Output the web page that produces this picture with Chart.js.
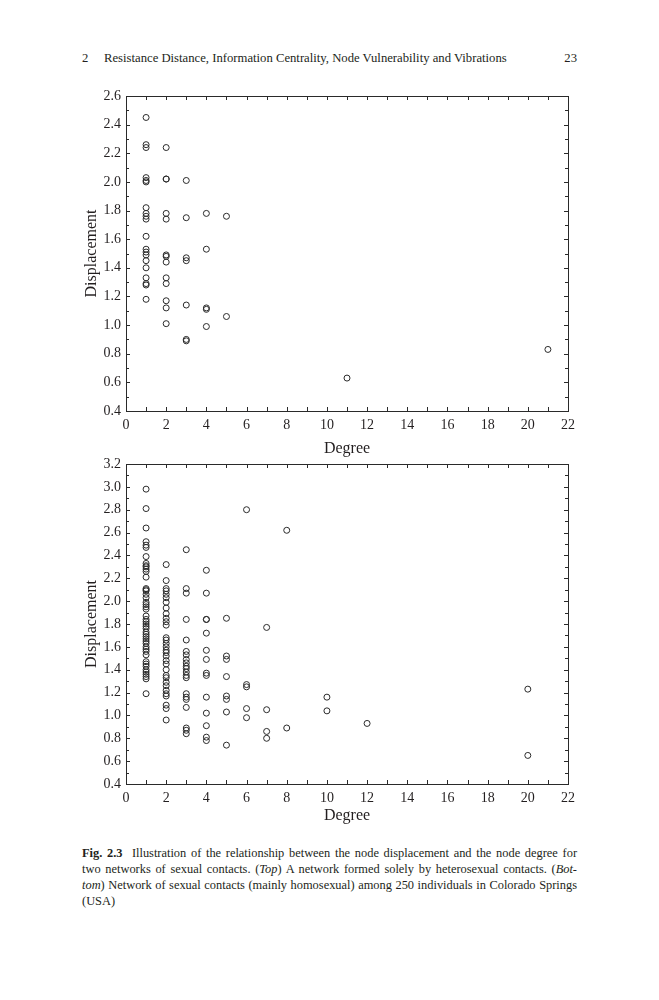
<!DOCTYPE html>
<html lang="en">
<head>
<meta charset="UTF-8">
<title>Fig. 2.3 Displacement vs Degree</title>
<script src="https://cdn.jsdelivr.net/npm/chart.js"></script>
<style>
  body { margin: 0; background: #fff; width: 659px; height: 1000px; position: relative;
         font-family: "Liberation Serif", "Times New Roman", serif; color: #231f20; }
  .hdr { position: absolute; top: 50px; font-size: 12.7px; line-height: 16px; }
  canvas { position: absolute; left: 0; }
  #caption { position: absolute; left: 82px; top: 845px; width: 495px; font-size: 12.4px; line-height: 16px; }
  #caption div { text-align: justify; text-align-last: justify; white-space: nowrap; }
  #caption div.last { text-align-last: left; }
</style>
</head>
<body>
<div class="hdr" style="left:82px">2</div>
<div class="hdr" style="left:104px">Resistance Distance, Information Centrality, Node Vulnerability and Vibrations</div>
<div class="hdr" style="right:82px">23</div>

<canvas id="topChart" width="659" height="380" style="top:80px"></canvas>
<canvas id="bottomChart" width="659" height="380" style="top:450px"></canvas>

<div id="caption">
  <div><b>Fig. 2.3</b>&nbsp; Illustration of the relationship between the node displacement and the node degree for</div>
  <div>two networks of sexual contacts. (<i>Top</i>) A network formed solely by heterosexual contacts. (<i>Bot-</i></div>
  <div><i>tom</i>) Network of sexual contacts (mainly homosexual) among 250 individuals in Colorado Springs</div>
  <div class="last">(USA)</div>
</div>

<script>
// tick labels
const xTicks = [0, 2, 4, 6, 8, 10, 12, 14, 16, 18, 20, 22];
const topYTicks = [0.4, 0.6, 0.8, 1.0, 1.2, 1.4, 1.6, 1.8, 2.0, 2.2, 2.4, 2.6];
const bottomYTicks = [0.4, 0.6, 0.8, 1.0, 1.2, 1.4, 1.6, 1.8, 2.0, 2.2, 2.4, 2.6, 2.8, 3.0, 3.2];

// top network: displacement values per degree
const topDegrees = [1, 2, 3, 4, 5, 11, 21];
const topDeg1 = [2.45, 2.26, 2.24, 2.03, 2.01, 2.00, 1.82, 1.78, 1.76, 1.74, 1.62, 1.53, 1.51, 1.49, 1.45, 1.40, 1.33, 1.29, 1.28, 1.18];
const topDeg2 = [2.24, 2.02, 2.02, 1.78, 1.74, 1.49, 1.48, 1.44, 1.33, 1.29, 1.17, 1.12, 1.01];
const topDeg3 = [2.01, 1.75, 1.47, 1.45, 1.14, 0.90, 0.89];
const topDeg4 = [1.78, 1.53, 1.12, 1.11, 0.99];
const topDeg5 = [1.76, 1.06];
const topDeg11 = [0.63];
const topDeg21 = [0.83];
const topValues = [topDeg1, topDeg2, topDeg3, topDeg4, topDeg5, topDeg11, topDeg21];

// bottom network (Colorado Springs)
const botDegrees = [1, 2, 3, 4, 5, 6, 7, 8, 10, 12, 20];
const botDeg1 = [2.98, 2.81, 2.64, 2.52, 2.49, 2.47, 2.39, 2.33, 2.31, 2.30, 2.28, 2.26, 2.21, 2.11, 2.10, 2.09, 2.06, 2.03,
                 1.99, 1.97, 1.95, 1.93, 1.87, 1.84, 1.82, 1.80, 1.78, 1.76, 1.73, 1.71, 1.69, 1.67, 1.65, 1.63, 1.60, 1.58,
                 1.56, 1.53, 1.47, 1.45, 1.43, 1.40, 1.38, 1.36, 1.34, 1.32, 1.19];
const botDeg2 = [2.32, 2.18, 2.11, 2.09, 2.06, 2.03, 1.99, 1.94, 1.89, 1.85, 1.82, 1.79, 1.68, 1.66, 1.63, 1.60, 1.57, 1.55,
                 1.52, 1.48, 1.45, 1.40, 1.35, 1.33, 1.29, 1.26, 1.22, 1.19, 1.17, 1.09, 1.06, 0.96];
const botDeg3 = [2.45, 2.11, 2.07, 1.84, 1.66, 1.56, 1.53, 1.49, 1.46, 1.43, 1.41, 1.38, 1.35, 1.33, 1.19, 1.16, 1.14, 1.07, 0.89, 0.87, 0.84];
const botDeg4 = [2.27, 2.07, 1.84, 1.84, 1.72, 1.57, 1.49, 1.37, 1.35, 1.16, 1.02, 0.91, 0.81, 0.78];
const botDeg5 = [1.85, 1.52, 1.49, 1.34, 1.17, 1.14, 1.03, 0.74];
const botDeg6 = [2.80, 1.27, 1.25, 1.06, 0.98];
const botDeg7 = [1.77, 1.05, 0.86, 0.80];
const botDeg8 = [2.62, 0.89];
const botDeg10 = [1.16, 1.04];
const botDeg12 = [0.93];
const botDeg20 = [1.23, 0.65];
const botValues = [botDeg1, botDeg2, botDeg3, botDeg4, botDeg5, botDeg6, botDeg7, botDeg8, botDeg10, botDeg12, botDeg20];

function toPoints(degrees, values) {
  const pts = [];
  degrees.forEach((d, i) => values[i].forEach(v => pts.push({ x: d, y: v })));
  return pts;
}

// frame with inward ticks on all four sides
const frameTicks = {
  id: 'frameTicks',
  afterDraw(chart) {
    const { ctx, chartArea: a, scales: { x, y } } = chart;
    ctx.save();
    ctx.strokeStyle = '#2a2a2a';
    ctx.lineWidth = 1;
    ctx.strokeRect(Math.round(a.left) + 0.5, Math.round(a.top) + 0.5,
                   Math.round(a.right - a.left), Math.round(a.bottom - a.top));
    ctx.beginPath();
    for (let v = x.min; v <= x.max; v++) {
      const px = Math.round(x.getPixelForValue(v)) + 0.5;
      ctx.moveTo(px, a.bottom); ctx.lineTo(px, a.bottom - 4);
      ctx.moveTo(px, a.top); ctx.lineTo(px, a.top + 4);
    }
    const n = Math.round((y.max - y.min) * 10);
    for (let i = 0; i <= n; i++) {
      const py = Math.round(y.getPixelForValue(y.min + i / 10)) + 0.5;
      const len = i % 2 === 0 ? 4 : 3;
      ctx.moveTo(a.left, py); ctx.lineTo(a.left + len, py);
      ctx.moveTo(a.right, py); ctx.lineTo(a.right - len, py);
    }
    ctx.stroke();
    ctx.restore();
  }
};

const tickFont = { family: 'Liberation Serif', size: 14 };
const titleFont = { family: 'Liberation Serif', size: 16, lineHeight: 1.2 };

function makeChart(id, points, yTicks, opts) {
  return new Chart(document.getElementById(id), {
    type: 'scatter',
    data: {
      datasets: [{
        data: points,
        pointStyle: 'circle',
        pointRadius: 3,
        pointBorderWidth: 1,
        borderColor: '#2a2a2a',
        backgroundColor: 'rgba(0,0,0,0)'
      }]
    },
    options: {
      responsive: false,
      animation: false,
      layout: { padding: { top: opts.top, right: 91, bottom: 0, left: 0 } },
      plugins: { legend: { display: false }, tooltip: { enabled: false } },
      scales: {
        x: {
          type: 'linear', min: 0, max: 22,
          afterBuildTicks: s => { s.ticks = xTicks.map(v => ({ value: v })); },
          afterFit: s => { s.height = opts.xHeight; },
          grid: { display: false, drawTicks: false },
          border: { display: false },
          ticks: { font: tickFont, color: '#231f20', padding: 6, maxRotation: 0 },
          title: { display: true, text: 'Degree', font: titleFont, color: '#231f20',
                   padding: { top: 0, bottom: opts.xTitlePad } }
        },
        y: {
          type: 'linear', min: yTicks[0], max: yTicks[yTicks.length - 1],
          afterBuildTicks: s => { s.ticks = yTicks.map(v => ({ value: v })); },
          afterFit: s => { s.width = 126; },
          grid: { display: false, drawTicks: false },
          border: { display: false },
          ticks: { font: tickFont, color: '#231f20', padding: 5, callback: v => v.toFixed(1) },
          title: { display: true, text: 'Displacement', font: titleFont, color: '#231f20',
                   padding: { top: 82, bottom: 0 } }
        }
      }
    },
    plugins: [frameTicks]
  });
}

makeChart('topChart', toPoints(topDegrees, topValues), topYTicks, { top: 16, xHeight: 49, xTitlePad: 2 });
makeChart('bottomChart', toPoints(botDegrees, botValues), bottomYTicks, { top: 14, xHeight: 46, xTitlePad: 5 });
</script>
</body>
</html>
